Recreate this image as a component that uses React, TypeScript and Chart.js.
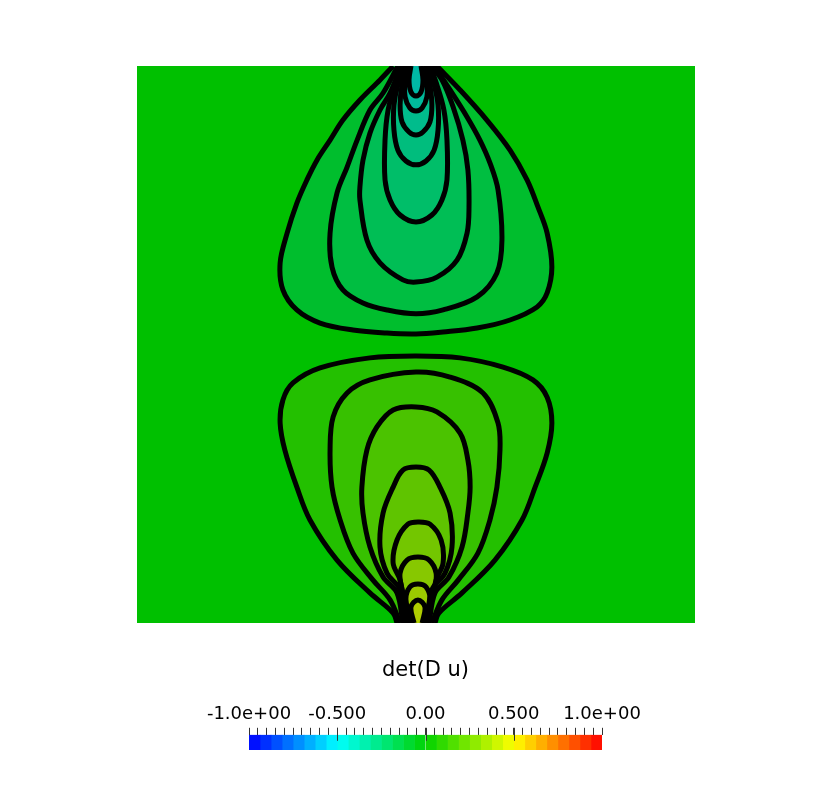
import { useEffect, useRef } from "react";
import { Chart, registerables } from "chart.js";

Chart.register(...registerables);

type P = [number, number];

// ---- Contours of det(D u), domain x,y in [-1, 1] ----
// upper lobe, outermost to innermost
const TOP_D: P[] = [[-0.082,1.0],[-0.129,0.950],[-0.201,0.878],[-0.262,0.806],[-0.308,0.734],[-0.355,0.662],[-0.391,0.591],[-0.427,0.508],[-0.462,0.400],[-0.487,0.293],[-0.477,0.196],[-0.427,0.124],[-0.344,0.077],[-0.226,0.052],[-0.104,0.041],[0,0.038],[0.097,0.045],[0.219,0.059],[0.337,0.088],[0.434,0.135],[0.470,0.185],[0.487,0.278],[0.470,0.400],[0.437,0.494],[0.398,0.591],[0.337,0.698],[0.254,0.806],[0.158,0.914],[0.075,1.0]];
const TOP_C: P[] = [[-0.065,1.0],[-0.118,0.903],[-0.165,0.842],[-0.211,0.734],[-0.247,0.637],[-0.283,0.544],[-0.308,0.400],[-0.301,0.278],[-0.262,0.196],[-0.190,0.149],[-0.104,0.124],[0,0.110],[0.097,0.124],[0.219,0.171],[0.290,0.257],[0.308,0.375],[0.294,0.555],[0.265,0.652],[0.229,0.734],[0.183,0.817],[0.122,0.914],[0.065,1.0]];
const TOP_B: P[] = [[-0.054,1.0],[-0.093,0.903],[-0.129,0.842],[-0.165,0.759],[-0.190,0.662],[-0.201,0.566],[-0.201,0.519],[-0.176,0.375],[-0.129,0.293],[-0.047,0.232],[0,0.224],[0.075,0.242],[0.147,0.303],[0.183,0.400],[0.190,0.494],[0.186,0.627],[0.168,0.734],[0.133,0.853],[0.093,0.950],[0.054,1.0]];
const TOP_A: P[] = [[-0.047,1.0],[-0.075,0.932],[-0.100,0.842],[-0.111,0.734],[-0.111,0.591],[-0.093,0.519],[-0.057,0.465],[0,0.440],[0.057,0.465],[0.093,0.519],[0.111,0.591],[0.111,0.734],[0.100,0.842],[0.075,0.932],[0.050,1.0]];
const TOP_E: P[] = [[-0.039,1.0],[-0.065,0.932],[-0.079,0.860],[-0.079,0.770],[-0.065,0.698],[-0.036,0.659],[0,0.645],[0.036,0.659],[0.065,0.698],[0.079,0.770],[0.079,0.860],[0.065,0.932],[0.043,1.0]];
const TOP_F: P[] = [[-0.032,1.0],[-0.050,0.932],[-0.057,0.860],[-0.050,0.799],[-0.025,0.763],[0,0.752],[0.025,0.763],[0.050,0.799],[0.057,0.860],[0.050,0.932],[0.036,1.0]];
const TOP_G: P[] = [[-0.025,1.0],[-0.039,0.943],[-0.039,0.889],[-0.022,0.849],[0,0.838],[0.022,0.849],[0.039,0.889],[0.039,0.943],[0.029,1.0]];
const TOP_H: P[] = [[-0.018,1.0],[-0.025,0.950],[-0.018,0.907],[0,0.892],[0.018,0.907],[0.025,0.950],[0.018,1.0]];

// lower lobe, outermost to innermost
const BOT_D: P[] = [[-0.068,-1.0],[-0.082,-0.964],[-0.165,-0.892],[-0.283,-0.774],[-0.380,-0.630],[-0.427,-0.512],[-0.470,-0.379],[-0.487,-0.282],[-0.477,-0.199],[-0.441,-0.138],[-0.344,-0.084],[-0.165,-0.048],[0,-0.041],[0.158,-0.048],[0.312,-0.081],[0.419,-0.127],[0.470,-0.189],[0.487,-0.282],[0.470,-0.390],[0.427,-0.512],[0.380,-0.630],[0.283,-0.774],[0.165,-0.892],[0.082,-0.964],[0.068,-1.0]];
const BOT_C: P[] = [[-0.057,-1.0],[-0.093,-0.917],[-0.154,-0.846],[-0.226,-0.749],[-0.272,-0.630],[-0.301,-0.512],[-0.308,-0.379],[-0.297,-0.260],[-0.247,-0.174],[-0.165,-0.127],[0,-0.099],[0.122,-0.117],[0.240,-0.174],[0.294,-0.282],[0.301,-0.379],[0.290,-0.512],[0.265,-0.630],[0.222,-0.749],[0.151,-0.846],[0.093,-0.917],[0.057,-1.0]];
const BOT_B: P[] = [[-0.047,-1.0],[-0.068,-0.892],[-0.118,-0.835],[-0.165,-0.727],[-0.190,-0.605],[-0.194,-0.512],[-0.176,-0.379],[-0.140,-0.296],[-0.082,-0.235],[0,-0.224],[0.075,-0.242],[0.158,-0.318],[0.186,-0.415],[0.194,-0.512],[0.186,-0.605],[0.165,-0.727],[0.118,-0.835],[0.068,-0.892],[0.047,-1.0]];
const BOT_A: P[] = [[-0.039,-1.0],[-0.057,-0.881],[-0.104,-0.821],[-0.129,-0.727],[-0.118,-0.605],[-0.082,-0.512],[-0.047,-0.451],[0,-0.440],[0.047,-0.451],[0.086,-0.512],[0.122,-0.605],[0.129,-0.727],[0.104,-0.821],[0.057,-0.881],[0.039,-1.0]];
const BOT_E: P[] = [[-0.029,-1.0],[-0.057,-0.846],[-0.082,-0.785],[-0.068,-0.702],[-0.029,-0.645],[0.007,-0.637],[0.050,-0.645],[0.090,-0.702],[0.097,-0.785],[0.072,-0.846],[0.036,-1.0]];
const BOT_F: P[] = [[-0.022,-1.0],[-0.050,-0.881],[-0.057,-0.821],[-0.032,-0.774],[0.007,-0.763],[0.047,-0.774],[0.072,-0.821],[0.065,-0.881],[0.029,-1.0]];
const BOT_G: P[] = [[-0.014,-1.0],[-0.036,-0.917],[-0.022,-0.871],[0.007,-0.860],[0.036,-0.871],[0.050,-0.917],[0.025,-1.0]];
const BOT_H: P[] = [[-0.007,-1.0],[-0.018,-0.943],[0.007,-0.917],[0.032,-0.943],[0.022,-1.0]];

const TOP_CONTOURS = [TOP_D, TOP_C, TOP_B, TOP_A, TOP_E, TOP_F, TOP_G, TOP_H];
const BOT_CONTOURS = [BOT_D, BOT_C, BOT_B, BOT_A, BOT_E, BOT_F, BOT_G, BOT_H];

// field colour inside each contour (outer -> inner)
const TOP_FILLS = ["rgb(0,190,45)", "rgb(0,190,65)", "rgb(0,190,85)", "rgb(0,190,105)", "rgb(0,189,125)", "rgb(0,188,140)", "rgb(0,186,155)", "rgb(0,184,165)"];
const BOT_FILLS = ["rgb(35,192,0)", "rgb(55,193,0)", "rgb(75,195,0)", "rgb(95,196,0)", "rgb(115,198,0)", "rgb(135,200,0)", "rgb(155,202,0)", "rgb(175,205,0)"];
const FIELD_ZERO = "rgb(0,192,0)";

// ---- colour bar ----
const CB_TITLE = "det(D u)";
const CB_MIN = -1;
const CB_MAX = 1;
const CB_BANDS = 32;
const CB_TICK_STEP = 0.05;
const CB_MAJOR = [-0.5, 0, 0.5];
const CB_LABELS: [number, string][] = [[-1, "-1.0e+00"], [-0.5, "-0.500"], [0, "0.00"], [0.5, "0.500"], [1, "1.0e+00"]];
const CMAP_VALUES = [-1, -0.5, 0, 0.5, 1];
const CMAP_COLORS: [number, number, number][] = [[0, 0, 255], [0, 255, 255], [0, 210, 0], [255, 255, 0], [255, 0, 0]];

const FONT = "'DejaVu Sans', sans-serif";

function cmap(v: number): string {
  for (let i = 0; i < CMAP_VALUES.length - 1; i++) {
    const a = CMAP_VALUES[i], b = CMAP_VALUES[i + 1];
    if (v >= a && v <= b) {
      const t = (v - a) / (b - a);
      const c0 = CMAP_COLORS[i], c1 = CMAP_COLORS[i + 1];
      const c = c0.map((x, k) => Math.round(x + (c1[k] - x) * t));
      return `rgb(${c[0]},${c[1]},${c[2]})`;
    }
  }
  return "#000";
}

export default function App() {
  const plotRef = useRef<HTMLCanvasElement>(null);
  const barRef = useRef<HTMLCanvasElement>(null);

  useEffect(() => {
    const contours: { pts: P[]; fill: string; level: number }[] = [];
    TOP_CONTOURS.forEach((pts, i) => contours.push({ pts, fill: TOP_FILLS[i], level: i }));
    BOT_CONTOURS.forEach((pts, i) => contours.push({ pts, fill: BOT_FILLS[i], level: i }));

    const bgPlugin = {
      id: "fieldBg",
      beforeDraw(chart: any) {
        const { ctx, chartArea } = chart;
        ctx.save();
        ctx.fillStyle = FIELD_ZERO;
        ctx.fillRect(chartArea.left, chartArea.top, chartArea.right - chartArea.left, chartArea.bottom - chartArea.top);
        ctx.restore();
      },
    };

    const plot = new Chart(plotRef.current!, {
      type: "line",
      data: {
        datasets: contours.map((c) => ({
          data: c.pts.map(([x, y]) => ({ x, y })),
          borderColor: "#000",
          borderWidth: 5,
          backgroundColor: c.fill,
          fill: "shape",
          pointRadius: 0,
          tension: 0.35,
          order: 100 - c.level,
        })),
      } as any,
      options: {
        animation: false,
        responsive: false,
        events: [],
        layout: { padding: { left: 137, top: 66, right: 137, bottom: 165 } },
        scales: {
          x: { type: "linear", min: -1, max: 1, display: false },
          y: { type: "linear", min: -1, max: 1, display: false },
        },
        plugins: {
          legend: { display: false },
          tooltip: { enabled: false },
          filler: { drawTime: "beforeDatasetsDraw", propagate: false },
        } as any,
      },
      plugins: [bgPlugin],
    });

    const bandW = (CB_MAX - CB_MIN) / CB_BANDS;
    const bands = Array.from({ length: CB_BANDS }, (_, i) => {
      const lo = CB_MIN + i * bandW;
      const hi = lo + bandW;
      return { lo, hi, color: cmap((lo + hi) / 2) };
    });

    const majorPlugin = {
      id: "majorTicks",
      afterDatasetsDraw(chart: any) {
        const { ctx, chartArea, scales } = chart;
        ctx.save();
        ctx.strokeStyle = "#333";
        ctx.lineWidth = 1;
        CB_MAJOR.forEach((v) => {
          const x = Math.round(scales.x.getPixelForValue(v)) + 0.5;
          ctx.beginPath();
          ctx.moveTo(x, chartArea.top - 7);
          ctx.lineTo(x, chartArea.top + 6);
          ctx.stroke();
        });
        ctx.restore();
      },
    };

    const bar = new Chart(barRef.current!, {
      type: "bar",
      data: {
        labels: ["cb"],
        datasets: bands.map((b) => ({
          data: [[b.lo, b.hi]],
          backgroundColor: b.color,
          borderWidth: 0,
          barPercentage: 1,
          categoryPercentage: 1,
          grouped: false,
        })),
      } as any,
      options: {
        indexAxis: "y",
        animation: false,
        responsive: false,
        events: [],
        layout: { padding: { left: 249, right: 230, top: 0, bottom: 10 } },
        scales: {
          x: {
            type: "linear",
            position: "top",
            min: CB_MIN,
            max: CB_MAX,
            ticks: {
              stepSize: CB_TICK_STEP,
              autoSkip: false,
              maxRotation: 0,
              maxTicksLimit: 100,
              padding: 3,
              color: "#000",
              font: { family: FONT, size: 18 },
              callback: (value: any) => {
                const hit = CB_LABELS.find(([v]) => Math.abs(v - Number(value)) < 1e-6);
                return hit ? hit[1] : "";
              },
            },
            grid: { drawOnChartArea: false, drawTicks: true, tickLength: 7, color: "#333" },
            border: { display: false },
          },
          y: { display: false },
        },
        plugins: {
          legend: { display: false },
          tooltip: { enabled: false },
          title: {
            display: true,
            text: CB_TITLE,
            color: "#000",
            font: { family: FONT, size: 21, weight: "normal" },
            padding: { top: 18, bottom: 17 },
          },
        },
      } as any,
      plugins: [majorPlugin],
    });

    return () => {
      plot.destroy();
      bar.destroy();
    };
  }, []);

  return (
    <div style={{ position: "absolute", left: 0, top: 0, width: 832, height: 788, background: "#fff" }}>
      <canvas ref={plotRef} width={832} height={788} style={{ position: "absolute", left: 0, top: 0 }} />
      <canvas ref={barRef} width={832} height={120} style={{ position: "absolute", left: 0, top: 640 }} />
    </div>
  );
}
